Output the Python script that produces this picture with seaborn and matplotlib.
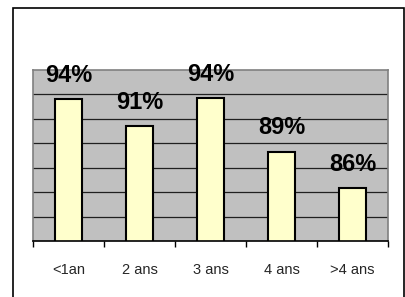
import matplotlib
matplotlib.use("Agg")
import matplotlib.pyplot as plt
import seaborn as sns
import pandas as pd
from matplotlib.patches import Rectangle

categories = ["<1an", "2 ans", "3 ans", "4 ans", ">4 ans"]
values = [93.6, 91.4, 93.7, 89.3, 86.3]
bar_labels = ["94%", "91%", "94%", "89%", "86%"]

sns.set_theme(style="white")
plt.rcParams['font.family'] = ['Liberation Sans', 'DejaVu Sans']

df = pd.DataFrame({"cat": categories, "val": values})

fig = plt.figure(figsize=(4.06, 2.97), dpi=100)
fig.patch.set_facecolor("white")
ax = fig.add_axes([33/406, 1-241/297, 355/406, 171/297])
ax.set_facecolor("#C0C0C0")

sns.barplot(data=df, x="cat", y="val", color="#FFFFCC", edgecolor="black",
            linewidth=1.5, width=0.39, saturation=1, ax=ax, zorder=3)

ax.set_ylim(82, 96)
ax.set_xlim(-0.5, 4.5)
ax.set_yticks([84, 86, 88, 90, 92, 94])
ax.yaxis.grid(True, color="#202020", linewidth=0.9, zorder=1)
ax.set_axisbelow(True)
ax.tick_params(axis="y", left=False, labelleft=False)
ax.set_xticks(range(5))
ax.set_xticklabels(categories, fontsize=10.5)
ax.set_xticks([-0.5, 0.5, 1.5, 2.5, 3.5, 4.5], minor=True)
ax.tick_params(axis="x", which="major", length=0, pad=16)
ax.tick_params(axis="x", which="minor", length=4, width=1, color="black", bottom=True, direction="out")
ax.set_xlabel("")
ax.set_ylabel("")

for s in ["top", "left", "right"]:
    ax.spines[s].set_visible(True)
    ax.spines[s].set_color("#808080")
    ax.spines[s].set_linewidth(1.2)
ax.spines["bottom"].set_color("black")
ax.spines["bottom"].set_linewidth(1.2)
ax.spines["bottom"].set_zorder(4)

ax.bar_label(ax.containers[0], labels=bar_labels, padding=9,
             fontsize=17, fontweight="bold", color="black")

fig.add_artist(Rectangle((13.5/406, -0.1), (404-13.5)/406, 1.1 - 7.5/297,
                         transform=fig.transFigure, fill=False,
                         edgecolor="black", linewidth=1.2))

fig.savefig("out.png", dpi=100)
